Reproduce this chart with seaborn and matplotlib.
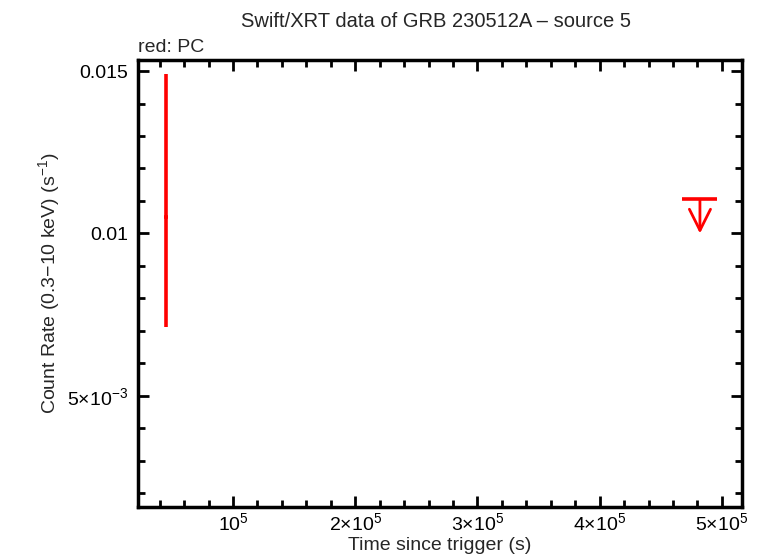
import matplotlib
matplotlib.use("Agg")
import matplotlib.pyplot as plt
import seaborn as sns
import numpy as np
from matplotlib.ticker import FixedLocator, MultipleLocator

# PC mode detection
pc_time = [4.52e4]
pc_time_err = [1.5e3]
pc_rate = [0.01052]
pc_rate_low = [0.00711]
pc_rate_high = [0.01490]

# PC mode upper limit
ul_time = [4.82e5]
ul_time_err = [1.43e4]
ul_rate = [0.01105]

x_ticks = [1e5, 2e5, 3e5, 4e5, 5e5]
x_ticklabels = [r"$10^5$", r"$2{\times}10^5$", r"$3{\times}10^5$", r"$4{\times}10^5$", r"$5{\times}10^5$"]
y_ticks = [0.005, 0.01, 0.015]
y_ticklabels = [r"$5{\times}10^{-3}$", "0.01", "0.015"]

sns.set_style("ticks")
plt.rcParams['font.family'] = ['Liberation Sans', 'DejaVu Sans']
plt.rcParams['mathtext.fontset'] = 'custom'
plt.rcParams['mathtext.rm'] = 'Liberation Sans'
plt.rcParams['mathtext.it'] = 'Liberation Sans'

fig = plt.figure(figsize=(7.64, 5.58), dpi=100)
ax = fig.add_axes([0.1806, 0.0914, 0.7906, 0.8011])

# detection with error bars
yerr = [np.array(pc_rate) - np.array(pc_rate_low), np.array(pc_rate_high) - np.array(pc_rate)]
ax.errorbar(pc_time, pc_rate, xerr=pc_time_err, yerr=yerr, fmt='none',
            ecolor='red', elinewidth=2.6, capsize=0)

# upper limit: horizontal bar plus downward arrow
ax.errorbar(ul_time, ul_rate, xerr=ul_time_err, fmt='none', ecolor='red',
            elinewidth=2.6, capsize=0)
for t, r in zip(ul_time, ul_rate):
    ax.annotate("", xy=(t, r - 0.00105), xytext=(t, r),
                arrowprops=dict(arrowstyle='->', color='red', lw=2.0,
                                mutation_scale=38, shrinkA=0, shrinkB=0))

ax.set_xlim(2.23e4, 5.164e5)
ax.set_ylim(0.00158, 0.01534)

ax.xaxis.set_major_locator(FixedLocator(x_ticks))
ax.set_xticklabels(x_ticklabels)
ax.xaxis.set_minor_locator(MultipleLocator(2e4))
ax.yaxis.set_major_locator(FixedLocator(y_ticks))
ax.set_yticklabels(y_ticklabels)
ax.yaxis.set_minor_locator(MultipleLocator(0.001))

ax.tick_params(which='both', direction='in', top=True, right=True, width=2, colors='black',
               labelsize=14)
ax.tick_params(which='major', length=8, pad=7)
ax.tick_params(axis='x', which='major', pad=4)
ax.tick_params(which='minor', length=5)
for s in ax.spines.values():
    s.set_linewidth(2.5)
    s.set_color('black')

ax.set_xlabel("Time since trigger (s)", fontsize=14, labelpad=2)
ax.set_ylabel(r"Count Rate (0.3$-$10 keV) (s$^{-1}$)", fontsize=14, labelpad=4)
fig.text(0.571, 0.962, "Swift/XRT data of GRB 230512A \u2013 source 5", ha='center', va='center', fontsize=14.5)
ax.text(0.0, 1.01, "red: PC", transform=ax.transAxes, ha='left', va='bottom', fontsize=14)

fig.savefig("out.png", dpi=100)
